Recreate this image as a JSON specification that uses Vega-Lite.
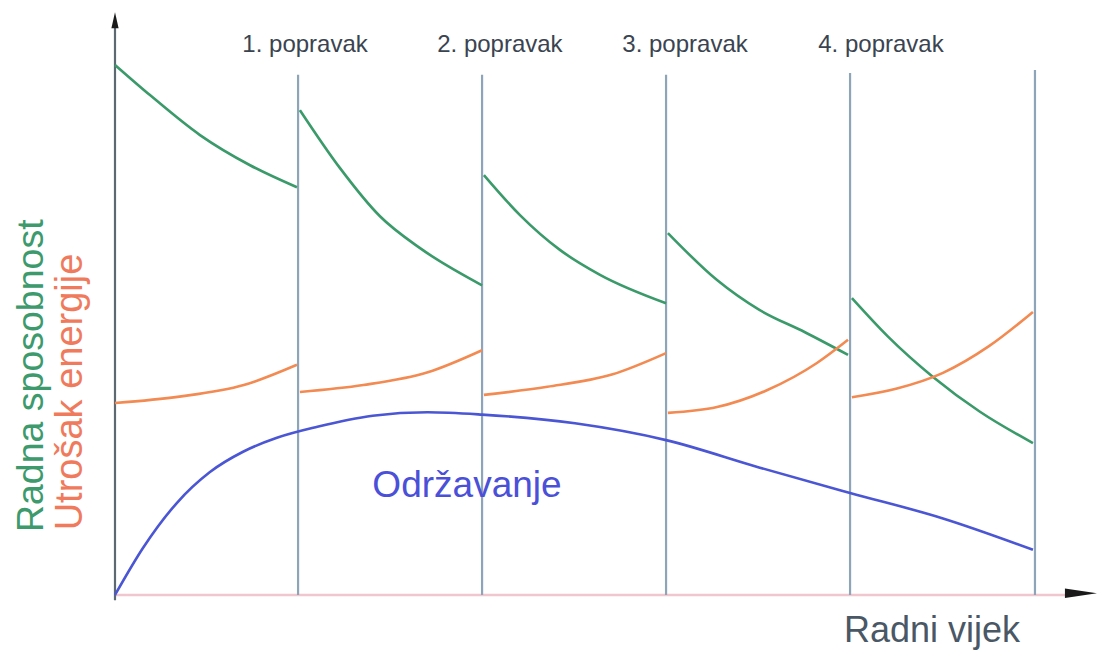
{
  "$schema": "https://vega.github.io/schema/vega-lite/v6.json",
  "width": 1099,
  "height": 652,
  "padding": 0,
  "autosize": {"type": "none"},
  "background": "white",
  "config": {"view": {"stroke": null}, "font": "Liberation Sans"},
  "datasets": {
    "curves": [
      {"series": "Radna sposobnost", "seg": "g1", "t": 0.0, "v": 91.4},
      {"series": "Radna sposobnost", "seg": "g1", "t": 0.19, "v": 86.2},
      {"series": "Radna sposobnost", "seg": "g1", "t": 0.462, "v": 79.3},
      {"series": "Radna sposobnost", "seg": "g1", "t": 0.734, "v": 74.1},
      {"series": "Radna sposobnost", "seg": "g1", "t": 0.989, "v": 70.3},
      {"series": "Radna sposobnost", "seg": "g2", "t": 1.005, "v": 83.6},
      {"series": "Radna sposobnost", "seg": "g2", "t": 1.223, "v": 73.6},
      {"series": "Radna sposobnost", "seg": "g2", "t": 1.44, "v": 65.3},
      {"series": "Radna sposobnost", "seg": "g2", "t": 1.658, "v": 59.8},
      {"series": "Radna sposobnost", "seg": "g2", "t": 1.995, "v": 53.4},
      {"series": "Radna sposobnost", "seg": "g3", "t": 2.005, "v": 72.4},
      {"series": "Radna sposobnost", "seg": "g3", "t": 2.201, "v": 65.5},
      {"series": "Radna sposobnost", "seg": "g3", "t": 2.418, "v": 59.5},
      {"series": "Radna sposobnost", "seg": "g3", "t": 2.636, "v": 55.2},
      {"series": "Radna sposobnost", "seg": "g3", "t": 2.995, "v": 50.3},
      {"series": "Radna sposobnost", "seg": "g4", "t": 3.005, "v": 62.4},
      {"series": "Radna sposobnost", "seg": "g4", "t": 3.272, "v": 54.3},
      {"series": "Radna sposobnost", "seg": "g4", "t": 3.5, "v": 49.2},
      {"series": "Radna sposobnost", "seg": "g4", "t": 3.75, "v": 45.3},
      {"series": "Radna sposobnost", "seg": "g4", "t": 3.984, "v": 41.4},
      {"series": "Radna sposobnost", "seg": "g5", "t": 4.005, "v": 51.2},
      {"series": "Radna sposobnost", "seg": "g5", "t": 4.2, "v": 44.6},
      {"series": "Radna sposobnost", "seg": "g5", "t": 4.446, "v": 37.6},
      {"series": "Radna sposobnost", "seg": "g5", "t": 4.701, "v": 31.6},
      {"series": "Radna sposobnost", "seg": "g5", "t": 4.989, "v": 26.2},
      {"series": "Utrošak energije", "seg": "o1", "t": 0.0, "v": 33.1},
      {"series": "Utrošak energije", "seg": "o1", "t": 0.35, "v": 34.2},
      {"series": "Utrošak energije", "seg": "o1", "t": 0.7, "v": 36.2},
      {"series": "Utrošak energije", "seg": "o1", "t": 0.989, "v": 39.7},
      {"series": "Utrošak energije", "seg": "o2", "t": 1.005, "v": 35.0},
      {"series": "Utrošak energije", "seg": "o2", "t": 1.35, "v": 36.2},
      {"series": "Utrošak energije", "seg": "o2", "t": 1.7, "v": 38.4},
      {"series": "Utrošak energije", "seg": "o2", "t": 1.995, "v": 42.2},
      {"series": "Utrošak energije", "seg": "o3", "t": 2.005, "v": 34.5},
      {"series": "Utrošak energije", "seg": "o3", "t": 2.35, "v": 35.9},
      {"series": "Utrošak energije", "seg": "o3", "t": 2.7, "v": 38.0},
      {"series": "Utrošak energije", "seg": "o3", "t": 2.995, "v": 41.7},
      {"series": "Utrošak energije", "seg": "o4", "t": 3.005, "v": 31.4},
      {"series": "Utrošak energije", "seg": "o4", "t": 3.272, "v": 32.4},
      {"series": "Utrošak energije", "seg": "o4", "t": 3.543, "v": 35.3},
      {"series": "Utrošak energije", "seg": "o4", "t": 3.815, "v": 40.0},
      {"series": "Utrošak energije", "seg": "o4", "t": 3.984, "v": 44.0},
      {"series": "Utrošak energije", "seg": "o5", "t": 4.005, "v": 34.1},
      {"series": "Utrošak energije", "seg": "o5", "t": 4.25, "v": 35.6},
      {"series": "Utrošak energije", "seg": "o5", "t": 4.5, "v": 38.3},
      {"series": "Utrošak energije", "seg": "o5", "t": 4.75, "v": 42.9},
      {"series": "Utrošak energije", "seg": "o5", "t": 4.989, "v": 48.8},
      {"series": "Održavanje", "seg": "b1", "t": 0.0, "v": 0.0},
      {"series": "Održavanje", "seg": "b1", "t": 0.152, "v": 8.1},
      {"series": "Održavanje", "seg": "b1", "t": 0.337, "v": 15.9},
      {"series": "Održavanje", "seg": "b1", "t": 0.516, "v": 21.2},
      {"series": "Održavanje", "seg": "b1", "t": 0.696, "v": 24.7},
      {"series": "Održavanje", "seg": "b1", "t": 0.88, "v": 27.1},
      {"series": "Održavanje", "seg": "b1", "t": 1.1, "v": 29.0},
      {"series": "Održavanje", "seg": "b1", "t": 1.4, "v": 30.9},
      {"series": "Održavanje", "seg": "b1", "t": 1.7, "v": 31.5},
      {"series": "Održavanje", "seg": "b1", "t": 1.995, "v": 31.1},
      {"series": "Održavanje", "seg": "b1", "t": 2.5, "v": 29.6},
      {"series": "Održavanje", "seg": "b1", "t": 2.995, "v": 26.7},
      {"series": "Održavanje", "seg": "b1", "t": 3.5, "v": 22.0},
      {"series": "Održavanje", "seg": "b1", "t": 3.995, "v": 17.6},
      {"series": "Održavanje", "seg": "b1", "t": 4.5, "v": 13.2},
      {"series": "Održavanje", "seg": "b1", "t": 4.989, "v": 7.8}
    ],
    "repairs": [
      {"t": 0.995, "v0": 0, "v1": 89.7, "label": "1. popravak", "lt": 1.033},
      {"t": 1.995, "v0": 0, "v1": 89.7, "label": "2. popravak", "lt": 2.092},
      {"t": 2.995, "v0": 0, "v1": 89.7, "label": "3. popravak", "lt": 3.098},
      {"t": 3.995, "v0": 0, "v1": 90.0, "label": "4. popravak", "lt": 4.163},
      {"t": 5.0, "v0": 0, "v1": 90.5, "label": "", "lt": 5.0}
    ]
  },
  "layer": [
    {
      "data": {"values": [{"t0": 0, "t1": 5.22, "v": 0}]},
      "mark": {"type": "rule", "color": "#f0c6cf", "strokeWidth": 2.5},
      "encoding": {
        "x": {"field": "t0", "type": "quantitative", "scale": {"domain": [-0.625, 5.348], "nice": false, "zero": false}, "axis": null},
        "x2": {"field": "t1"},
        "y": {"field": "v", "type": "quantitative", "scale": {"domain": [-9.83, 102.59], "nice": false, "zero": false}, "axis": null}
      }
    },
    {
      "data": {"name": "repairs"},
      "transform": [{"filter": "datum.t > 0"}],
      "mark": {"type": "rule", "color": "#8ea5b9", "strokeWidth": 2.2},
      "encoding": {
        "x": {"field": "t", "type": "quantitative", "scale": {"domain": [-0.625, 5.348], "nice": false, "zero": false}, "axis": null},
        "y": {"field": "v0", "type": "quantitative", "scale": {"domain": [-9.83, 102.59], "nice": false, "zero": false}, "axis": null},
        "y2": {"field": "v1"}
      }
    },
    {
      "data": {"values": [{"t": 0, "v0": -0.9, "v1": 98.5}]},
      "mark": {"type": "rule", "color": "#5d6873", "strokeWidth": 2.2},
      "encoding": {
        "x": {"field": "t", "type": "quantitative", "scale": {"domain": [-0.625, 5.348], "nice": false, "zero": false}, "axis": null},
        "y": {"field": "v0", "type": "quantitative", "scale": {"domain": [-9.83, 102.59], "nice": false, "zero": false}, "axis": null},
        "y2": {"field": "v1"}
      }
    },
    {
      "data": {"values": [{"t": 0, "v": 99.1}]},
      "mark": {"type": "point", "shape": "M-0.45,1L0,-1L0.45,1Z", "size": 256, "filled": true, "color": "#1a1a1a", "opacity": 1},
      "encoding": {
        "x": {"field": "t", "type": "quantitative", "scale": {"domain": [-0.625, 5.348], "nice": false, "zero": false}, "axis": null},
        "y": {"field": "v", "type": "quantitative", "scale": {"domain": [-9.83, 102.59], "nice": false, "zero": false}, "axis": null}
      }
    },
    {
      "data": {"values": [{"t": 5.25, "v": 0.3}]},
      "mark": {"type": "point", "shape": "M-1,-0.3L1,0L-1,0.3Z", "size": 1024, "filled": true, "color": "#1a1a1a", "opacity": 1},
      "encoding": {
        "x": {"field": "t", "type": "quantitative", "scale": {"domain": [-0.625, 5.348], "nice": false, "zero": false}, "axis": null},
        "y": {"field": "v", "type": "quantitative", "scale": {"domain": [-9.83, 102.59], "nice": false, "zero": false}, "axis": null}
      }
    },
    {
      "data": {"name": "curves"},
      "mark": {"type": "line", "interpolate": "monotone", "strokeWidth": 2.6},
      "encoding": {
        "x": {"field": "t", "type": "quantitative", "scale": {"domain": [-0.625, 5.348], "nice": false, "zero": false}, "axis": null},
        "y": {"field": "v", "type": "quantitative", "scale": {"domain": [-9.83, 102.59], "nice": false, "zero": false}, "axis": null},
        "color": {"field": "series", "type": "nominal", "scale": {"domain": ["Radna sposobnost", "Utrošak energije", "Održavanje"], "range": ["#3a9a6a", "#f28a52", "#4a56d4"]}, "legend": null},
        "detail": {"field": "seg"}
      }
    },
    {
      "data": {"name": "repairs"},
      "transform": [{"filter": "datum.label != ''"}],
      "mark": {"type": "text", "fontSize": 24, "color": "#3a4450", "align": "center", "baseline": "middle"},
      "encoding": {
        "x": {"field": "lt", "type": "quantitative", "scale": {"domain": [-0.625, 5.348], "nice": false, "zero": false}, "axis": null},
        "y": {"datum": 94.8, "type": "quantitative", "scale": {"domain": [-9.83, 102.59], "nice": false, "zero": false}, "axis": null},
        "text": {"field": "label"}
      }
    },
    {
      "data": {"values": [{"t": 4.44, "v": -8.1, "label": "Radni vijek"}]},
      "mark": {"type": "text", "fontSize": 36, "color": "#4a5866", "align": "center", "baseline": "alphabetic"},
      "encoding": {
        "x": {"field": "t", "type": "quantitative", "scale": {"domain": [-0.625, 5.348], "nice": false, "zero": false}, "axis": null},
        "y": {"field": "v", "type": "quantitative", "scale": {"domain": [-9.83, 102.59], "nice": false, "zero": false}, "axis": null},
        "text": {"field": "label"}
      }
    },
    {
      "data": {"values": [{"t": 1.913, "v": 16.9, "label": "Održavanje"}]},
      "mark": {"type": "text", "fontSize": 37, "color": "#4a50d8", "align": "center", "baseline": "alphabetic"},
      "encoding": {
        "x": {"field": "t", "type": "quantitative", "scale": {"domain": [-0.625, 5.348], "nice": false, "zero": false}, "axis": null},
        "y": {"field": "v", "type": "quantitative", "scale": {"domain": [-9.83, 102.59], "nice": false, "zero": false}, "axis": null},
        "text": {"field": "label"}
      }
    },
    {
      "data": {"values": [{"t": -0.391, "v": 37.8, "label": "Radna sposobnost"}]},
      "mark": {"type": "text", "fontSize": 37.5, "color": "#3c9a6c", "align": "center", "baseline": "alphabetic", "angle": 270},
      "encoding": {
        "x": {"field": "t", "type": "quantitative", "scale": {"domain": [-0.625, 5.348], "nice": false, "zero": false}, "axis": null},
        "y": {"field": "v", "type": "quantitative", "scale": {"domain": [-9.83, 102.59], "nice": false, "zero": false}, "axis": null},
        "text": {"field": "label"}
      }
    },
    {
      "data": {"values": [{"t": -0.179, "v": 35.0, "label": "Utrošak energije"}]},
      "mark": {"type": "text", "fontSize": 38, "color": "#f07a5c", "align": "center", "baseline": "alphabetic", "angle": 270},
      "encoding": {
        "x": {"field": "t", "type": "quantitative", "scale": {"domain": [-0.625, 5.348], "nice": false, "zero": false}, "axis": null},
        "y": {"field": "v", "type": "quantitative", "scale": {"domain": [-9.83, 102.59], "nice": false, "zero": false}, "axis": null},
        "text": {"field": "label"}
      }
    }
  ]
}
